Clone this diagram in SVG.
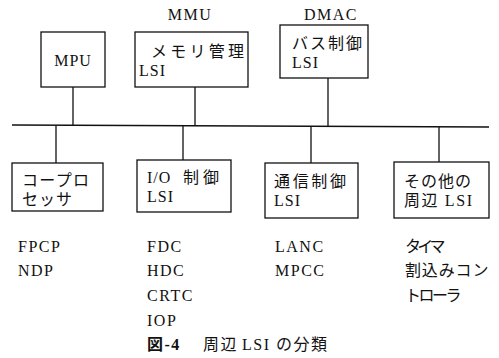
<svg xmlns="http://www.w3.org/2000/svg" width="499" height="358" viewBox="0 0 499 358">
<style>
.box{fill:#fff;stroke:#111;stroke-width:1.3}
.ln{stroke:#111;stroke-width:1.3;fill:none}
text{font-family:"Liberation Serif","Noto Sans CJK JP",serif;fill:#111;font-size:16px;letter-spacing:1px}
.s{font-size:16px;letter-spacing:1.5px}
</style>
<rect width="499" height="358" fill="#fff"/>
<g id="connectors">
<path class="ln" d="M12 125 L489 127"/>
<path class="ln" d="M73 87 V125 M195 87 V126 M328 78 V126"/>
<path class="ln" d="M56 126 V163 M183 126 V160 M311 127 V163 M439 127 V162"/>
</g>
<g id="mpu"><rect class="box" x="41" y="32" width="64" height="55"/><text x="73" y="66" text-anchor="middle" font-size="17">MPU</text></g>
<g id="mmu"><text x="190" y="20" text-anchor="middle" class="s">MMU</text><rect class="box" x="135" y="32" width="113" height="55"/><text x="151" y="57" textLength="94" lengthAdjust="spacing">メモリ管理</text><text x="139" y="76">LSI</text></g>
<g id="dmac"><text x="331" y="20" text-anchor="middle" class="s">DMAC</text><rect class="box" x="280" y="25" width="88" height="53"/><text x="292" y="49" textLength="71" lengthAdjust="spacing">バス制御</text><text x="292" y="68">LSI</text></g>
<g id="cop"><rect class="box" x="12" y="163" width="91" height="48"/><text x="22" y="186" textLength="68" lengthAdjust="spacing">コープロ</text><text x="22" y="205" textLength="51" lengthAdjust="spacing">セッサ</text></g>
<g id="io"><rect class="box" x="137" y="160" width="94" height="52"/><text x="147" y="183">I/O</text><text x="183" y="183" textLength="37" lengthAdjust="spacing">制御</text><text x="147" y="202">LSI</text></g>
<g id="comm"><rect class="box" x="265" y="163" width="93" height="55"/><text x="274" y="187" textLength="73" lengthAdjust="spacing">通信制御</text><text x="274" y="206">LSI</text></g>
<g id="other"><rect class="box" x="394" y="162" width="95" height="56"/><text x="404" y="187" textLength="68" lengthAdjust="spacing">その他の</text><text x="404" y="206" textLength="69" lengthAdjust="spacing">周辺 LSI</text></g>
<g id="lists">
<text x="18" y="252" class="s">FPCP</text><text x="18" y="276" class="s">NDP</text>
<text x="147" y="252" class="s">FDC</text><text x="147" y="276" class="s">HDC</text><text x="147" y="301" class="s">CRTC</text><text x="147" y="326" class="s">IOP</text>
<text x="275" y="252" class="s">LANC</text><text x="275" y="276" class="s">MPCC</text>
<text x="405" y="252" class="s" textLength="42" lengthAdjust="spacing">タイマ</text><text x="405" y="276" class="s" textLength="85" lengthAdjust="spacing">割込みコン</text><text x="405" y="301" class="s" textLength="58" lengthAdjust="spacing">トローラ</text>
</g>
<g id="caption"><text x="147" y="350" class="s"><tspan font-weight="bold">図-4</tspan><tspan x="203">周辺</tspan><tspan x="242">LSI</tspan><tspan x="276">の分類</tspan></text></g>
</svg>
